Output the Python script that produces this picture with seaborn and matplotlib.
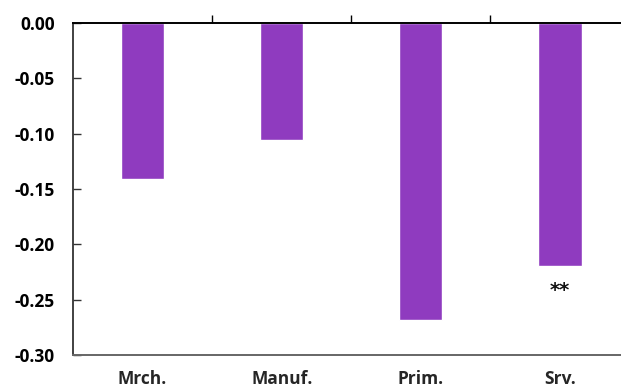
import matplotlib
matplotlib.use("Agg")
import matplotlib.pyplot as plt
import seaborn as sns
import pandas as pd

# Sector coefficients
sectors = ["Mrch.", "Manuf.", "Prim.", "Srv."]
coefs = [-0.141, -0.106, -0.268, -0.220]
signif = ["", "", "", "**"]

sns.set_style("white")
plt.rcParams["font.family"] = ["Open Sans", "DejaVu Sans"]

df = pd.DataFrame({"sector": sectors, "coef": coefs})

fig = plt.figure(figsize=(6.21, 3.90), dpi=100)
ax = fig.add_axes([73 / 621, 35 / 390, 556.6 / 621, 332 / 390])

sns.barplot(data=df, x="sector", y="coef", color="#8F3BBF", saturation=1,
            width=0.31, ax=ax)

ax.set_ylim(-0.30, 0.0)
ax.set_xlim(-0.5, 3.5)
ax.set_yticks([0.0, -0.05, -0.10, -0.15, -0.20, -0.25, -0.30])
ax.set_yticklabels([f"{v:.2f}" for v in ax.get_yticks()],
                   fontsize=12.5, fontweight="bold")
ax.set_xlabel("")
ax.set_ylabel("")

# significance markers under the bars
for i, (v, s) in enumerate(zip(coefs, signif)):
    if s:
        ax.text(i, v - 0.0215, s, ha="center", va="center", fontsize=14,
                fontweight="bold", color="#111111", family="DejaVu Sans")

for sp in ["left", "top", "bottom"]:
    ax.spines[sp].set_visible(True)
ax.spines["right"].set_visible(False)
ax.spines["top"].set_color("black")
ax.spines["top"].set_linewidth(1.4)
ax.spines["left"].set_color("#333333")
ax.spines["left"].set_linewidth(1.3)
ax.spines["bottom"].set_color("#666666")
ax.spines["bottom"].set_linewidth(1.4)

# y ticks pointing inward
ax.tick_params(axis="y", direction="in", length=6, width=1, left=True,
               colors="#333333", labelcolor="black", pad=13)
# category labels at the bottom, no ticks
ax.tick_params(axis="x", which="major", length=0, pad=11)
for lbl in ax.get_xticklabels():
    lbl.set_fontsize(12.5)
    lbl.set_fontweight("bold")
# category separators as small ticks on the zero line
ax.set_xticks([0.5, 1.5, 2.5], minor=True)
ax.tick_params(axis="x", which="minor", top=True, bottom=False,
               direction="out", length=6, width=1, colors="black")

fig.savefig("out.png", dpi=100)
